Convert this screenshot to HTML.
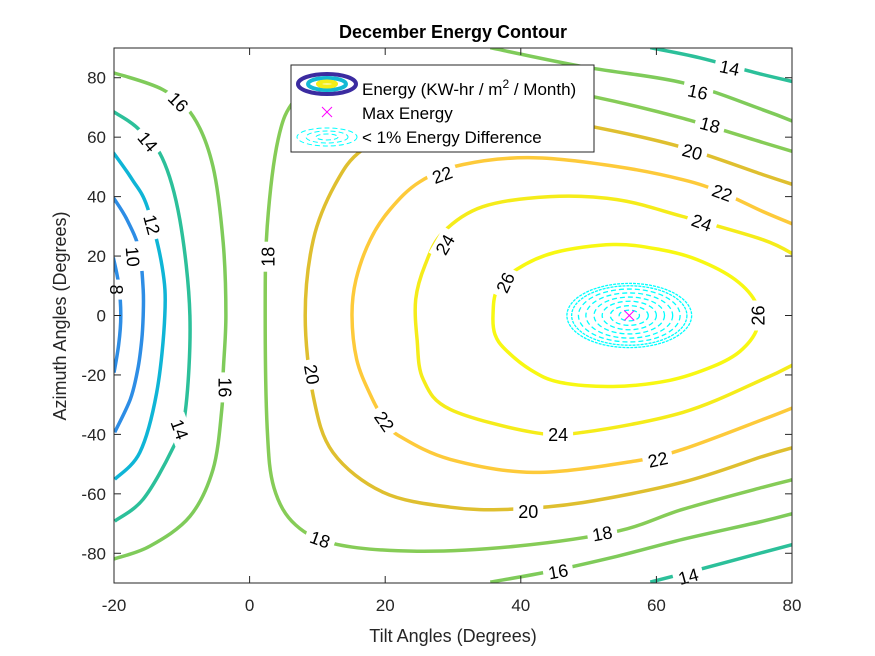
<!DOCTYPE html>
<html><head><meta charset="utf-8">
<style>
html,body{margin:0;padding:0;background:#fff;}
svg{display:block;font-family:"Liberation Sans",Arial,sans-serif;}
</style></head>
<body>
<svg id="chart" width="875" height="656" viewBox="0 0 875 656">
<rect width="875" height="656" fill="#fff"/>
<defs><clipPath id="clip"><rect x="114" y="48" width="678" height="535"/></clipPath></defs>
<text x="453" y="38" text-anchor="middle" font-size="18" font-weight="bold" fill="#000">December Energy Contour</text>
<g id="plot" clip-path="url(#clip)"></g>
<g id="labels"></g>
<rect x="114" y="48" width="678" height="535" fill="none" stroke="#262626" stroke-width="1"/>
<g id="ticks"></g>
<text x="453" y="642" text-anchor="middle" font-size="18" fill="#262626">Tilt Angles (Degrees)</text>
<text transform="translate(66,316) rotate(-90)" text-anchor="middle" font-size="18" fill="#262626">Azimuth Angles (Degrees)</text>
<g>
<rect x="291" y="65" width="303" height="87" fill="#fff" stroke="#262626" stroke-width="1"/>
<g>
<ellipse cx="327" cy="84" rx="29" ry="10" fill="none" stroke="#3b2ba0" stroke-width="4"/>
<ellipse cx="327" cy="84" rx="19" ry="6" fill="none" stroke="#13b9d4" stroke-width="4"/>
<ellipse cx="327" cy="84" rx="9" ry="2.5" fill="none" stroke="#f4ee18" stroke-width="4"/>
</g>
<text x="362" y="95" font-size="17" fill="#000">Energy (KW-hr / m<tspan dy="-7" font-size="12">2</tspan><tspan dy="7"> / Month)</tspan></text>
<g stroke="#ff00ff" stroke-width="1">
<line x1="322" y1="107" x2="332" y2="117"/><line x1="332" y1="107" x2="322" y2="117"/></g>
<text x="362" y="119" font-size="17" fill="#000">Max Energy</text>
<g fill="none" stroke="#00ffff" stroke-width="1" stroke-dasharray="5,3">
<ellipse cx="327" cy="137" rx="30" ry="9"/><ellipse cx="327" cy="137" rx="21" ry="6"/><ellipse cx="327" cy="137" rx="11" ry="3"/></g>
<text x="362" y="143" font-size="17" fill="#000">&lt; 1% Energy Difference</text>
</g>
</svg>
<script>
// ---- data ----
const xTicks = [-20, 0, 20, 40, 60, 80];
const yTicks = [-80, -60, -40, -20, 0, 20, 40, 60, 80];
const levels = [8, 10, 12, 14, 16, 16, 16, 14, 14, 18, 20, 22, 24, 26];
const levelColors = {8:'#2d8de5',10:'#2d8de5',12:'#0fb5d6',14:'#2cc09a',16:'#7fcb5a',18:'#86cc57',20:'#dfbf2f',22:'#fdca3a',24:'#f5ec1a',26:'#f8f812'};
const contourClosed = [false,false,false,false,false,false,false,false,false,false,false,false,false,true];
const contour8 = [[-20.1,19.5],[-19.3,10.4],[-19.0,0],[-19.3,-9.7],[-20,-19.2]];
const contour10 = [[-20.1,39.7],[-18.1,32.3],[-16.3,22.2],[-15.7,8.7],[-15.7,0],[-15.9,-8],[-16.5,-18.2],[-17.6,-28.2],[-19.9,-39.3]];
const contour12 = [[-20.1,54.8],[-17.3,45.7],[-15.1,36.6],[-12.9,16.5],[-12.5,0],[-13.7,-25.9],[-16.2,-46.1],[-19.9,-55.1]];
const contour14L = [[-20.1,68.6],[-16.6,63.2],[-12.9,53.1],[-10.3,32.3],[-8.8,0],[-9.5,-32.6],[-11.4,-45.0],[-15.7,-61.8],[-19.9,-69.2]];
const contour16L = [[-20.1,81.7],[-12.8,76.0],[-8.3,66.9],[-5.4,50.1],[-3.9,24.5],[-3.5,0],[-3.9,-19.2],[-4.1,-31.6],[-5.4,-51.8],[-8.8,-67.6],[-14.7,-77.6],[-20.1,-82.0]];
const contour16TR = [[35.5,90.1],[49.2,83.7],[63.9,78.3],[75.7,69.2],[80.5,65.0]];
const contour16BR = [[35.5,-89.7],[44.3,-86.1],[54.2,-81.0],[63.9,-75.3],[75.7,-69.2],[80.5,-66.4]];
const contour14TR = [[59.1,90.1],[66.4,86.7],[75.3,81.3],[80.5,78.5]];
const contour14BR = [[59.1,-89.7],[66.4,-85.4],[75.7,-79.7],[80.5,-76.8]];
const contour18 = [[80.5,-55],[75.7,-57.8],[63.9,-65.2],[54.2,-72.6],[39.4,-77.6],[24.7,-79.3],[12.9,-77.0],[6.8,-70.5],[3.6,-58],[2.6,-38],[2.3,0],[2.6,29.9],[4.2,59.2],[6.7,72.6],[11.9,81.0],[22.2,82.7],[36.9,79.3],[50.7,73.6],[63.5,66.6],[75.7,58.2],[80.5,54.9]];
const contour20 = [[80.5,-44.2],[75.7,-47.4],[63.9,-56.1],[49.2,-62.9],[38.4,-65.2],[29.6,-64.5],[19.7,-59.5],[12.3,-46.1],[9.4,-27.2],[8.2,0],[9.4,25.5],[12.6,44.0],[16.7,55.8],[25.1,64.2],[39.9,67.6],[51.3,63.2],[63.5,56.8],[75.7,47.4],[80.5,43.8]];
const contour22 = [[80.5,30.4],[75.7,35.0],[69.7,41.3],[63.9,45.7],[54.2,50.1],[41.8,53.1],[31.5,50.8],[25.1,45.0],[20.7,35.6],[17.8,25.5],[15.7,12.1],[15.1,0],[15.8,-14.8],[17.8,-26.6],[20.0,-35.6],[22.2,-40.7],[29.6,-48.4],[41.8,-52.8],[56.5,-49.1],[63.9,-45.0],[75.7,-35.0],[80.5,-30.7]];
const contour24 = [[80.5,20.2],[75.7,25.5],[63.9,33.3],[54.2,39.0],[44.3,40.0],[34.4,36.6],[28.5,27.9],[25.9,17.1],[24.5,5.4],[24.7,-8.1],[25.6,-21.5],[29.6,-31.6],[41.8,-39.3],[49.2,-39.3],[63.9,-32.6],[75.7,-21.5],[80.5,-16.2]];
const contour26 = [[35.9,0],[36.5,8.7],[39.4,15.5],[45.0,21.2],[53.6,23.9],[60.5,22.2],[66.0,18.8],[71.6,12.1],[74.8,3.7],[74.8,-4.7],[72.3,-12.1],[68.4,-17.1],[62.0,-21.8],[53.6,-23.9],[45.8,-22.5],[41.4,-18.2],[37.7,-11.4],[36.2,-6.4]];
const contours = [contour8,contour10,contour12,contour14L,contour16L,contour16TR,contour16BR,contour14TR,contour14BR,contour18,contour20,contour22,contour24,contour26];
const labelText = ['16','14','12','10','8','14','16','18','20','18','22','24','26','22','24','22','20','18','16','14','26','24','22','20','18','16','14'];
const labelTilt = [-10.5,-15.0,-14.4,-17.2,-19.6,-10.3,-3.6,2.7,9.2,10.4,19.9,28.8,37.7,28.4,45.5,60.2,41.1,52.0,45.5,64.7,75.0,66.7,69.7,65.3,67.9,66.1,70.8];
const labelAz = [71.9,58.5,30.6,19.8,8.7,-38.3,-24.2,19.8,-19.8,-75.3,-35.6,23.9,11.1,47.4,-40,-48.4,-65.9,-73.3,-86.1,-87.7,0,31.3,41.3,55.1,64.2,75.3,83.4];
const labelRot = [45,50,75,85,90,70,90,-90,80,20,55,-60,-65,-20,0,-12,0,-10,-10,-15,-90,20,20,15,15,12,12];
const maxTilt = 56, maxAz = 0;
const diffRx = [1.5,2.8,4.0,5.2,6.4,7.5,8.5,9.2];
const diffRy = [1.8,3.3,4.8,6.2,7.6,8.9,10.0,10.8];

// ---- axes ----
const X0=114, X1=792, Y0=583, Y1=48;
const xs = t => X0 + (t - (-20)) / 100 * (X1 - X0);
const ys = a => Y0 - (a - (-90)) / 180 * (Y0 - Y1);
const NS='http://www.w3.org/2000/svg';
const mk = (tag, attrs, parent) => { const e=document.createElementNS(NS,tag); for(const k in attrs) e.setAttribute(k,attrs[k]); parent.appendChild(e); return e; };

function smoothPath(pts, closed){
  const P = pts.map(p=>[xs(p[0]), ys(p[1])]);
  const n=P.length; let d='M'+P[0][0].toFixed(1)+','+P[0][1].toFixed(1);
  const get=i=> closed ? P[(i+n)%n] : P[Math.max(0,Math.min(n-1,i))];
  const segs = closed ? n : n-1;
  for(let i=0;i<segs;i++){
    const p0=get(i-1),p1=get(i),p2=get(i+1),p3=get(i+2);
    const c1=[p1[0]+(p2[0]-p0[0])/6,p1[1]+(p2[1]-p0[1])/6];
    const c2=[p2[0]-(p3[0]-p1[0])/6,p2[1]-(p3[1]-p1[1])/6];
    d+=' C'+c1.map(v=>v.toFixed(1)).join(',')+' '+c2.map(v=>v.toFixed(1)).join(',')+' '+p2.map(v=>v.toFixed(1)).join(',');
  }
  if(closed) d+='Z';
  return d;
}

const plot=document.getElementById('plot');
contours.forEach((c,i)=>{
  const p=mk('path',{d:smoothPath(c,contourClosed[i]),fill:'none',stroke:levelColors[levels[i]],'stroke-width':3.5,'stroke-linejoin':'round'},plot);
  
  
});

// < 1% difference region
const cx=xs(maxTilt), cy=ys(maxAz), pxPerT=(X1-X0)/100, pxPerA=(Y0-Y1)/180;
diffRx.forEach((rx,i)=>{
  const e=mk('ellipse',{cx:cx,cy:cy,rx:rx*pxPerT,ry:diffRy[i]*pxPerA,fill:'none',stroke:'#00ffff','stroke-width':1.3,'stroke-dasharray':i>5?'3,1':'5,3'},plot);
  
  
});
const mg=mk('g',{stroke:'#ff00ff','stroke-width':1},plot);


mk('line',{x1:cx-5,y1:cy-5,x2:cx+5,y2:cy+5},mg);
mk('line',{x1:cx+5,y1:cy-5,x2:cx-5,y2:cy+5},mg);

// contour labels
const lab=document.getElementById('labels');
labelText.forEach((t,i)=>{
  const g=mk('g',{transform:`translate(${xs(labelTilt[i]).toFixed(1)},${ys(labelAz[i]).toFixed(1)}) rotate(${labelRot[i]})`},lab);
  
  
  const w=t.length*10+10;
  mk('rect',{x:-w/2,y:-10,width:w,height:20,fill:'#fff'},g);
  const tx=mk('text',{x:0,y:6.5,'text-anchor':'middle','font-size':18,fill:'#000'},g);
  tx.textContent=t;
});

// ticks
const tk=document.getElementById('ticks');
xTicks.forEach(v=>{
  const x=xs(v);
  mk('line',{x1:x,y1:Y0,x2:x,y2:Y0-7,stroke:'#262626'},tk);
  mk('line',{x1:x,y1:Y1,x2:x,y2:Y1+7,stroke:'#262626'},tk);
  const t=mk('text',{x:x,y:Y0+28,'text-anchor':'middle','font-size':17,fill:'#262626'},tk);
  t.textContent=v;
  
  
});
yTicks.forEach(v=>{
  const y=ys(v);
  mk('line',{x1:X0,y1:y,x2:X0+7,y2:y,stroke:'#262626'},tk);
  mk('line',{x1:X1,y1:y,x2:X1-7,y2:y,stroke:'#262626'},tk);
  const t=mk('text',{x:X0-8,y:y+6,'text-anchor':'end','font-size':17,fill:'#262626'},tk);
  t.textContent=v;
  
  
});
</script>
</body></html>
